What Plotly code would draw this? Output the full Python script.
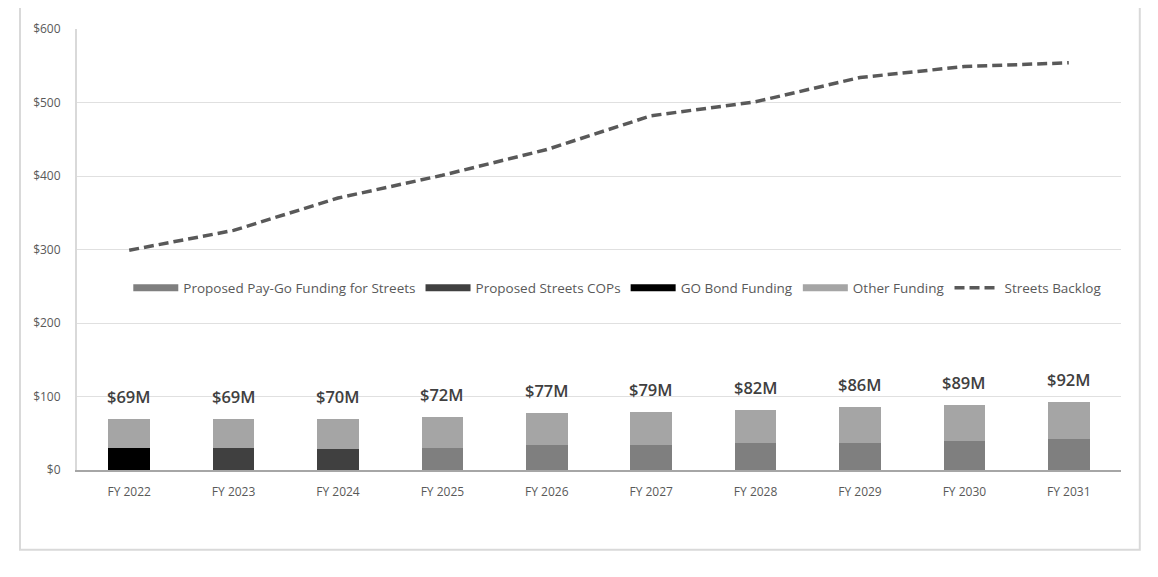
import plotly.graph_objects as go

years = ["FY 2022", "FY 2023", "FY 2024", "FY 2025", "FY 2026",
         "FY 2027", "FY 2028", "FY 2029", "FY 2030", "FY 2031"]
paygo = [0, 0, 0, 30, 34, 34, 37, 37, 40, 42]
cops = [0, 30, 29, 0, 0, 0, 0, 0, 0, 0]
gobond = [30, 0, 0, 0, 0, 0, 0, 0, 0, 0]
other = [39, 39, 41, 42, 43, 45, 45, 49, 49, 50]
totals = [69, 69, 70, 72, 77, 79, 82, 86, 89, 92]
backlog = [299, 326, 370, 401, 436, 482, 501, 534, 549, 554]

names = ["Proposed Pay-Go Funding for Streets", "Proposed Streets COPs",
         "GO Bond Funding", "Other Funding"]
series = [paygo, cops, gobond, other]
colors = ["#7f7f7f", "#404040", "#000000", "#a5a5a5"]

FONT = "Open Sans"
fig = go.Figure()
for n, s, c in zip(names, series, colors):
    fig.add_trace(go.Bar(x=years, y=s, name=n, marker=dict(color=c, line=dict(width=0)),
                         showlegend=False))
fig.add_trace(go.Scatter(x=years, y=backlog, name="Streets Backlog", mode="lines",
                         line=dict(color="#595959", width=3.5, dash="10px,5px"),
                         showlegend=False))
# legend entries
for n, c in zip(names, colors):
    fig.add_trace(go.Scatter(x=[None], y=[None], name=n, mode="lines",
                             line=dict(color=c, width=7)))
fig.add_trace(go.Scatter(x=[None], y=[None], name="Streets Backlog", mode="lines",
                         line=dict(color="#595959", width=3.5, dash="10px,5px")))

for x, t in zip(years, totals):
    fig.add_annotation(x=x, y=t, text=f"${t}M", showarrow=False, yanchor="bottom",
                       yshift=9, font=dict(family="Open Sans", size=16.5, color="#404040",
                                           weight=600))

fig.add_shape(type="rect", xref="paper", yref="paper", x0=-0.0546, x1=1.018,
              y0=-0.1806, y1=1.2, line=dict(color="#d9d9d9", width=2),
              fillcolor="rgba(0,0,0,0)", layer="below")

fig.update_layout(
    width=1158, height=577,
    margin=dict(l=69, r=45, t=19, b=115),
    plot_bgcolor="white", paper_bgcolor="white",
    barmode="stack", bargap=0.6,
    font=dict(family=FONT, size=12, color="#595959"),
    legend=dict(orientation="h", x=0.518, xanchor="center", y=0.413, yanchor="middle",
                itemwidth=45, font=dict(size=13.5, color="#595959"),
                bgcolor="rgba(0,0,0,0)", traceorder="normal"),
    xaxis=dict(showline=True, linecolor="#a6a6a6", linewidth=2, ticks="",
               tickfont=dict(size=12, color="#595959"), ticklabelstandoff=10),
    yaxis=dict(range=[0, 600], dtick=100, tickprefix="$", showgrid=True,
               gridcolor="#e0e0e0", gridwidth=1, zeroline=False,
               showline=True, linecolor="#d9d9d9", linewidth=2,
               tickfont=dict(size=12, color="#595959"), ticklabelstandoff=12),
)
fig.write_html("out.html")
